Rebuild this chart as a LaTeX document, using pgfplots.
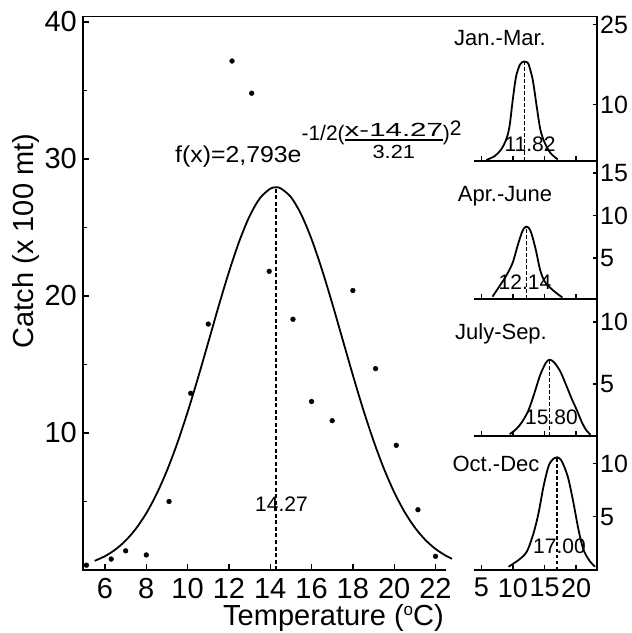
\documentclass[border=0pt]{standalone}
\usepackage{graphicx}
\usepackage{pgfplots}
\pgfplotsset{compat=1.18}
\usepackage{fontspec}
\setmainfont{Liberation Sans}
\newcommand{\fs}[1]{\fontsize{#1}{#1}\selectfont}
\begin{document}
\begin{tikzpicture}
\path[use as bounding box] (0,0) rectangle (632pt,633pt);
\pgfplotsset{
  common/.style={scale only axis, anchor=south west,
    axis line style={-, line width=1.7pt, line cap=rect},
    tick align=inside, major tick style={line width=1.3pt, black},
    minor tick style={line width=1.1pt, black},
    /pgf/number format/assume math mode=true, clip=false},
  panel/.style={common, width=122pt, xmin=4, xmax=23.3,
    axis x line*=bottom, axis y line*=right,
    xtick={5,10,15,20}, major tick length=4.5pt,
    yticklabel style={font=\fs{25}, inner sep=0pt, xshift=3pt, anchor=west},
    xticklabel style={font=\fs{27}, inner sep=0pt, yshift=-8pt}},
  curve/.style={smooth, line width=1.8pt, black},
  vline/.style={line width=1.5pt, black, dash pattern=on 3.5pt off 2.5pt},
}
% main axis
\begin{axis}[common, at={(83pt,63pt)}, width=362pt, height=553.5pt,
  xmin=4.935, xmax=22.46, ymin=0, ymax=40.4,
  axis x line*=bottom, axis y line*=left,
  xtick={6,8,...,22}, ytick={10,20,30,40}, minor ytick={5,15,25,35},
  major tick length=6pt, minor tick length=3.5pt,
  tick label style={font=\fs{29}},
  xticklabel style={inner sep=0pt, yshift=-8pt},
  yticklabel style={inner sep=0pt, xshift=-6pt}]
\addplot[curve] coordinates {(5.5,0.669) (6,1.011) (6.5,1.491) (7,2.148) (7.5,3.022) (8,4.145) (8.5,5.553) (9,7.259) (9.5,9.259) (10,11.53) (10.5,14.01) (11,16.62) (11.5,19.25) (12,21.75) (12.5,23.99) (13,25.83) (13.5,27.14) (14,27.83) (14.27,27.93) (14.5,27.86) (15,27.22) (15.5,25.95) (16,24.15) (16.5,21.94) (17,19.46) (17.5,16.84) (18,14.22) (18.5,11.72) (19,9.432) (19.5,7.407) (20,5.678) (20.5,4.248) (21,3.100) (21.5,2.210) (22,1.538) (22.5,1.044) (22.8,0.818)};
\addplot[line width=1.7pt, black, dash pattern=on 4pt off 2.5pt] coordinates {(14.27,0) (14.27,27.93)};
\addplot[only marks, mark=*, mark size=2.4pt, black] coordinates {(5.1,0.35) (6.3,0.8) (7.0,1.4) (8.0,1.1) (9.1,5.0) (10.15,12.9) (11.0,17.95) (12.15,37.15) (13.1,34.8) (13.95,21.8) (15.1,18.3) (16.0,12.3) (17.0,10.9) (18.0,20.4) (19.1,14.7) (20.1,9.1) (21.15,4.4) (22.0,1.0)};
\end{axis}
% panel 1 Jan.-Mar.
\begin{axis}[panel, at={(475pt,472pt)}, height=144.5pt, ymin=-0.5, ymax=26.5,
  ytick={10,25}, xticklabels={}]
\addplot[curve] coordinates {(5.8,-0.3) (7.1,0.4) (8.1,1.6) (8.9,3.4) (9.45,5.9) (9.97,10.9) (10.5,15.3) (11.1,17.5) (11.45,17.95) (11.82,18.1) (12.2,17.95) (12.5,17.5) (13.13,14.7) (13.76,9.7) (14.35,5.3) (15.07,2.8) (16.0,0.9) (17.1,-0.2)};
\addplot[vline] coordinates {(11.82,-0.5) (11.82,18.1)};
\end{axis}
% panel 2 Apr.-June
\begin{axis}[panel, at={(475pt,334pt)}, height=138pt, ymin=0.2, ymax=16.4,
  ytick={5,10,15}, xticklabels={}]
\addplot[curve] coordinates {(6.77,0.48) (7.83,1.66) (8.87,2.84) (9.93,4.4) (10.72,6.4) (11.36,7.9) (11.75,8.5) (12.14,8.7) (12.55,8.5) (12.93,7.9) (13.61,6.0) (14.31,3.6) (15.03,2.25) (16.26,1.27) (17.83,0.37)};
\addplot[vline] coordinates {(12.14,0.2) (12.14,8.7)};
\end{axis}
% panel 3 July-Sep.
\begin{axis}[panel, at={(475pt,197pt)}, height=137pt, ymin=0.8, ymax=11.85,
  ytick={5,10}, xticklabels={}]
\addplot[curve] coordinates {(9.5,0.95) (10.5,1.35) (11.4,1.9) (12.4,2.8) (13.3,4.1) (14.3,5.7) (15.2,6.7) (15.8,6.95) (16.5,6.75) (17.5,6.0) (18.5,4.8) (19.3,3.8) (20.1,2.9) (21.0,1.8) (21.7,1.2) (22.3,0.9)};
\addplot[vline] coordinates {(15.8,0.8) (15.8,6.95)};
\end{axis}
% panel 4 Oct.-Dec
\begin{axis}[panel, at={(475pt,63pt)}, height=134pt, ymin=0, ymax=12.6,
  ytick={5,10}]
\addplot[curve] coordinates {(9.31,0.31) (10.9,0.94) (12.2,1.73) (13.26,3.46) (14.05,5.35) (14.84,7.86) (15.63,9.75) (16.3,10.4) (17.0,10.6) (17.6,10.35) (18.2,9.6) (18.8,8.5) (19.58,6.3) (20.37,3.8) (21.16,1.9) (22.2,0.8) (23.0,0.31)};
\addplot[vline] coordinates {(17.0,0) (17.0,10.6)};
\end{axis}
% top frame line
\draw[line width=1.7pt, line cap=rect] (83pt,616.5pt) -- (597pt,616.5pt);
% labels
\node[rotate=90, anchor=base, inner sep=0pt, font=\fs{29}] at (33pt,392pt) {Catch (x 100 mt)};
\node[anchor=base, inner sep=0pt, font=\fs{29}] at (333.5pt,7.5pt) {Temperature (\raisebox{10pt}{\fs{17}o}C)};
\node[anchor=base west, inner sep=0pt] at (175pt,470pt) {\scalebox{1.08}[1]{\fs{23}f(x)=2,793e}\raisebox{22pt}{\fs{21}-1/2(\raisebox{4pt}{\setlength{\arrayrulewidth}{1.3pt}\begin{tabular}[t]{@{}c@{}}\fs{19}\scalebox{1.55}[1]{x-14.27}\\[-4pt]\hline\rule{0pt}{17.5pt}\fs{19}\scalebox{1.15}[1]{3.21}\end{tabular}})\raisebox{5pt}{2}}};
\node[anchor=base, inner sep=0pt, font=\fs{21}] at (281.5pt,121.3pt) {14.27};
\node[anchor=base, inner sep=0pt, font=\fs{22}] at (500pt,587pt) {Jan.-Mar.};
\node[anchor=base, inner sep=0pt, font=\fs{22}] at (505pt,431pt) {Apr.-June};
\node[anchor=base, inner sep=0pt, font=\fs{22}] at (501pt,293pt) {July-Sep.};
\node[anchor=base, inner sep=0pt, font=\fs{22}] at (496pt,161.3pt) {Oct.-Dec};
\node[anchor=base, inner sep=0pt, font=\fs{21}] at (530pt,481pt) {11.82};
\node[anchor=base, inner sep=0pt, font=\fs{21}] at (525pt,343pt) {12.14};
\node[anchor=base, inner sep=0pt, font=\fs{21}] at (551.5pt,208pt) {15.80};
\node[anchor=base, inner sep=0pt, font=\fs{21}] at (559.5pt,79pt) {17.00};
\end{tikzpicture}
\end{document}
